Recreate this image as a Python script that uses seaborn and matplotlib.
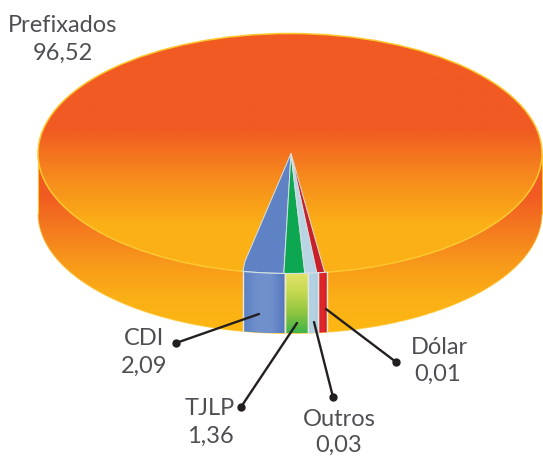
import numpy as np
import seaborn as sns
import matplotlib.pyplot as plt
from matplotlib.patches import Ellipse, Polygon

# shares from the chart, printed in the labels
names = ["Prefixados", "CDI", "TJLP", "Outros", "Dólar"]
values = ["96,52", "2,09", "1,36", "0,03", "0,01"]

top_share = [2.6, 1.33, 0.76, 0.5]
side_share = [2.65, 1.5, 0.62, 0.55]
first_edge = -2.99

top_colors = ["#5f82c4", "#0ca750", "#b9d5e4", "#c8202a"]
side_colors = [
    ["#5b7fc2", "#6f90cb", "#6f90cb", "#5578bd"],
    ["#e6e46c", "#c4d950", "#8fc43f", "#3fb54a"],
    ["#a6c8de", "#b4d2e3", "#b4d2e3", "#a6c8de"],
    ["#c4161c", "#e0262b", "#e0262b", "#c4161c"],
]
side_horizontal = [True, False, True, True]

name_xy = [(63, 32), (144, 345), (210, 415), (339, 426), (439, 354)]
value_xy = [(63, 60), (144, 373), (210, 443), (339, 452), (438, 381)]
dot_xy = [(176, 343), (241, 407), (333, 397), (396, 362)]
end_xy = [(259, 314), (297, 323), (314, 322), (326, 309)]

cx, cy, a, b = 290, 153.5, 252, 120
depth = 60

sns.set_theme(style="white")
plt.rcParams["font.family"] = ["Lato", "DejaVu Sans"]

fig = plt.figure(figsize=(5.43, 4.57), dpi=100)
ax = fig.add_axes([0, 0, 1, 1])
ax.set_xlim(0, 543)
ax.set_ylim(457, 0)
ax.axis("off")


def rim(theta):
    return cx + a * np.sin(theta), cy + b * np.cos(theta)


def gradient(patch, colors, box, horizontal=False, z=2):
    # imshow clipped to the shape, seaborn builds the colormap
    cmap = sns.blend_palette(colors, as_cmap=True)
    ramp = np.linspace(0, 1, 256).reshape(1, -1) if horizontal else np.linspace(0, 1, 256).reshape(-1, 1)
    ax.add_patch(patch)
    im = ax.imshow(ramp, cmap=cmap, extent=box, aspect="auto", zorder=z, interpolation="bilinear")
    im.set_clip_path(patch)


# wall of the cylinder
t = np.linspace(-np.pi / 2, np.pi / 2, 300)
wx, wy = rim(t)
wall = np.vstack([np.c_[wx, wy + depth], np.c_[wx[::-1], wy[::-1]]])
wall_patch = Polygon(wall, closed=True, fc="none", ec="none")
gradient(wall_patch, ["#f15a22", "#f15a22", "#f47b1f", "#f89a1a", "#fbb016", "#fdb813"],
         (38, 543, cy + b + depth + 2, 160), z=1)
ax.plot(wx, wy + depth, color="#fdc82f", lw=0.8, alpha=0.6, zorder=1.5)
ax.plot([wx[0], wx[0]], [cy, cy + depth], color="#fdc82f", lw=0.8, zorder=1.5)
ax.plot([wx[-1], wx[-1]], [cy, cy + depth], color="#fdc82f", lw=0.8, zorder=1.5)

# top face
top = Ellipse((cx, cy), 2 * a, 2 * b, fc="none", ec="none")
gradient(top, ["#f15a22", "#f15a22", "#f15a22", "#f68a1d", "#fbb016", "#fbb016"],
         (38, 543, cy + b, cy - b), z=2)
ax.add_patch(Ellipse((cx, cy), 2 * a, 2 * b, fc="none", ec="#fdc82f", lw=1.1, zorder=3))

# slices
top_edges = np.cumsum([first_edge] + top_share) / 100 * 2 * np.pi
side_edges = np.cumsum([first_edge] + side_share) / 100 * 2 * np.pi
for i in range(len(top_share)):
    x, y = rim(np.linspace(top_edges[i], top_edges[i + 1], 20))
    shape = np.vstack([[cx + 1, cy], np.c_[x, y]])
    if i == 0:
        # blue edge bends out just above the rim
        shape = np.vstack([shape[:1], [x[0] + 2, y[0] - 10], shape[1:]])
    ax.add_patch(Polygon(shape, closed=True, fc=top_colors[i], ec="#d5e0e4", lw=0.7, zorder=4))

    x, y = rim(np.linspace(side_edges[i], side_edges[i + 1], 20))
    side = Polygon(np.vstack([np.c_[x, y], np.c_[x[::-1], y[::-1] + depth]]), closed=True,
                   fc="none", ec="none")
    gradient(side, side_colors[i], (x.min(), x.max(), y.max() + depth, y.min()),
             horizontal=side_horizontal[i], z=4)
    ax.plot([x[0], x[0]], [y[0], y[0] + depth], color="#e3e9e0", lw=1.0, zorder=5)
    ax.plot([x[-1], x[-1]], [y[-1], y[-1] + depth], color="#e3e9e0", lw=1.0, zorder=5)
    ax.plot(x, y, color="#d5e0e4", lw=0.8, zorder=5)

# leader lines and labels
for (x0, y0), (x1, y1) in zip(dot_xy, end_xy):
    ax.plot([x0, x1], [y0, y1], color="#231f20", lw=1.7, zorder=6)
    ax.plot(x0, y0, "o", color="#231f20", ms=5, zorder=6)

for name, val, p, q in zip(names, values, name_xy, value_xy):
    ax.text(p[0], p[1], name, ha="center", va="baseline", fontsize=17, color="#4d4f53", zorder=7)
    ax.text(q[0], q[1], val, ha="center", va="baseline", fontsize=17, color="#4d4f53", zorder=7)

ax.set_xlim(0, 543)
ax.set_ylim(457, 0)
fig.savefig("out.png", dpi=100)
